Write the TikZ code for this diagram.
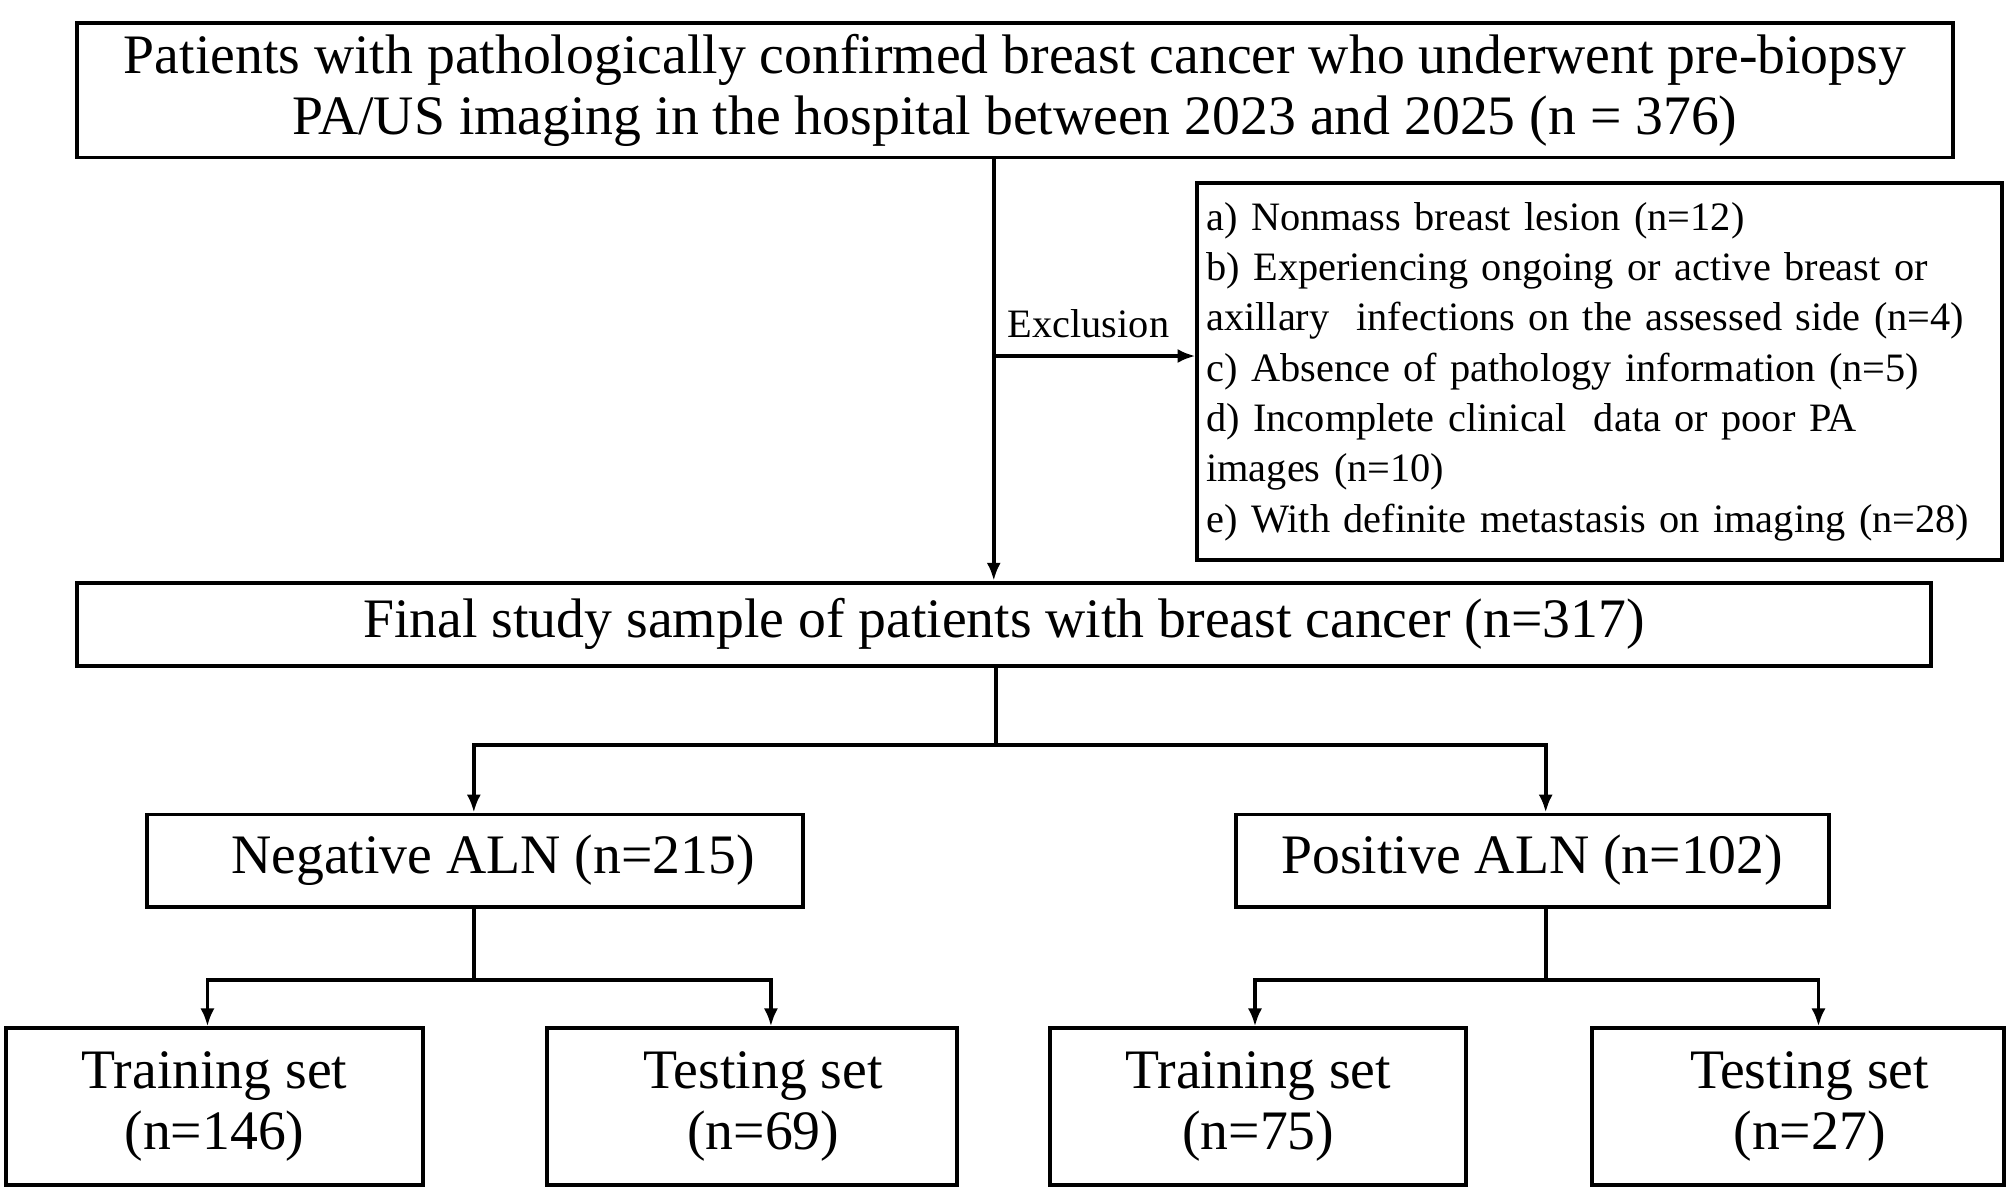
\documentclass[tikz,border=0pt]{standalone}
\usepackage{fontspec}
\setmainfont{Liberation Serif}
\usetikzlibrary{arrows.meta}
\begin{document}
\begin{tikzpicture}[x=1pt,y=-1pt,
 box/.style={draw,line width=3pt,inner sep=0pt,align=center,font=\fontsize{43.5}{48}\selectfont},
 ln/.style={line width=3pt},
 ar/.style={line width=3pt,-{Latex[length=14pt,width=11pt]}}]
\useasboundingbox[fill=white] (0,0) rectangle (1568,928);
\node[box,minimum width=1465pt,minimum height=105pt] (top) at (792.5,70.5) {Patients with pathologically confirmed breast cancer who underwent pre-biopsy\\PA/US imaging in the hospital between 2023 and 2025 (n = 376)};
\node[box,minimum width=628pt,minimum height=294pt,align=left,font=\fontsize{31.5}{39.3}\selectfont,text width=614pt] (ex) at (1249,290) {a) Nonmass breast lesion (n=12)\\b) Experiencing ongoing or active breast or\\axillary\ \ infections on the assessed side (n=4)\\c) Absence of pathology information (n=5)\\d) Incomplete clinical\ \ data or poor PA\\images (n=10)\\e) With definite metastasis on imaging (n=28)};
\node[box,minimum width=1448pt,minimum height=65pt] (fin) at (784,487.5) {Final study sample of patients with breast cancer (n=317)};
\node[box,minimum width=512pt,minimum height=72pt] (neg) at (371,672) {\hspace*{28pt}Negative ALN (n=215)};
\node[box,minimum width=463pt,minimum height=72pt] (pos) at (1196.5,672) {Positive ALN (n=102)};
\node[box,minimum width=325pt,minimum height=122pt] (b1) at (167.5,864) {Training set\\(n=146)};
\node[box,minimum width=320pt,minimum height=122pt] (b2) at (587,864) {\hspace*{18pt}Testing set\\\hspace*{18pt}(n=69)};
\node[box,minimum width=325pt,minimum height=122pt] (b3) at (982.5,864) {Training set\\(n=75)};
\node[box,minimum width=322pt,minimum height=122pt] (b4) at (1404,864) {\hspace*{18pt}Testing set\\\hspace*{18pt}(n=27)};
\coordinate (j1) at (776,278);
\draw[ar] (top.south -| j1) -- (fin.north -| j1);
\draw[ar] (j1) -- (ex.west |- j1);
\node[font=\fontsize{31.5}{36}\selectfont,anchor=south] (exl) at (850,267) {Exclusion};
\coordinate (s1) at (778,582);
\coordinate (sl) at (370,582);
\coordinate (sr) at (1207,582);
\draw[ln] (fin.south -| s1) -- (s1);
\draw[ar] (s1) -- (sl) -- (neg.north -| sl);
\draw[ar] (s1) -- (sr) -- (pos.north -| sr);
\coordinate (n1) at (370,765);
\coordinate (n1l) at (162,765);
\coordinate (n1r) at (602,765);
\draw[ln] (neg.south -| n1) -- (n1);
\draw[ar] (n1) -- (n1l) -- (b1.north -| n1l);
\draw[ar] (n1) -- (n1r) -- (b2.north -| n1r);
\coordinate (p1) at (1207,765);
\coordinate (p1l) at (980,765);
\coordinate (p1r) at (1420,765);
\draw[ln] (pos.south -| p1) -- (p1);
\draw[ar] (p1) -- (p1l) -- (b3.north -| p1l);
\draw[ar] (p1) -- (p1r) -- (b4.north -| p1r);
\end{tikzpicture}
\end{document}
